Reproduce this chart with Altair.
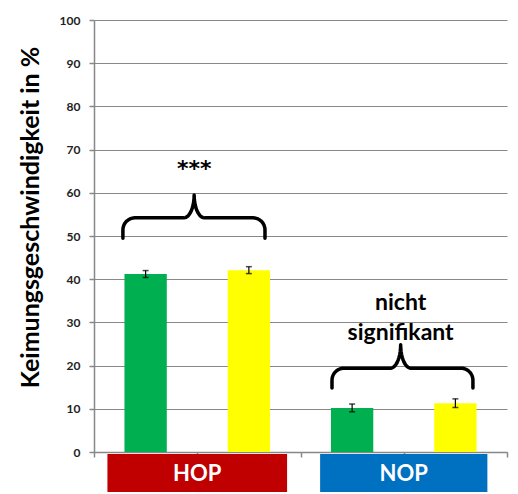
import altair as alt
import numpy as np
import pandas as pd

# ---- data ----
groups = ["HOP", "HOP", "NOP", "NOP"]
series = ["a", "b", "a", "b"]
values = [41.2, 42.1, 10.2, 11.3]
errors = [0.8, 0.8, 0.9, 1.0]
bar_colors = ["#00B050", "#FFFF00", "#00B050", "#FFFF00"]

group_labels = ["HOP", "NOP"]
group_colors = ["#C00000", "#0070C0"]
group_half_widths = [0.87, 0.81]

y_ticks = [0, 10, 20, 30, 40, 50, 60, 70, 80, 90, 100]
y_title = "Keimungsgeschwindigkeit in %"

sig_labels = [["***"], ["nicht", "signifikant"]]

FONT = "Lato"
BAR_HALF = 0.205

pos = [i + 0.5 for i in range(len(values))]
bars = pd.DataFrame({
    "x": [p - BAR_HALF for p in pos],
    "x2": [p + BAR_HALF for p in pos],
    "pos": pos,
    "v": values,
    "lo": [v - e for v, e in zip(values, errors)],
    "hi": [v + e for v, e in zip(values, errors)],
    "color": bar_colors,
})

X = alt.X("x:Q", scale=alt.Scale(domain=[0, 4], nice=False, zero=False),
          axis=alt.Axis(values=[0, 1, 2, 3, 4], labels=False, title=None, grid=False,
                        tickSize=5, tickColor="#888888", domainColor="#888888",
                        domainWidth=1.5, tickWidth=1.5))
Y = alt.Y("v:Q", scale=alt.Scale(domain=[0, 100], nice=False),
          axis=alt.Axis(values=y_ticks, title=y_title, titleFont=FONT, titleFontSize=25,
                        titleFontWeight="bold", titleColor="#000000", titleAngle=270,
                        titleX=-64, titleY=197, titleAlign="center", titleBaseline="middle",
                        labelFont=FONT, labelFontSize=12, labelFontWeight="bold",
                        labelColor="#222222", labelPadding=9, tickSize=5,
                        tickColor="#888888", domainColor="#888888", domainWidth=1.5,
                        gridColor="#888888", gridWidth=1, tickWidth=1.5))

bar_layer = alt.Chart(bars).mark_bar().encode(
    x=X, x2="x2:Q", y=Y, y2=alt.datum(0),
    color=alt.Color("color:N", scale=None))

err_rule = alt.Chart(bars).mark_rule(color="#000000", strokeWidth=1.2).encode(
    x="pos:Q", y="lo:Q", y2="hi:Q")
err_cap = alt.Chart(bars).transform_fold(["lo", "hi"], as_=["k", "yy"]).mark_tick(
    orient="horizontal", color="#000000", size=6, thickness=1.5).encode(
    x="pos:Q", y="yy:Q")

# ---- braces ----
def brace(x0, x1, xp, y_end, y_base, y_peak, rx=0.116, ry=2.8, mrx=0.1):
    pts = [(x0, y_end)]
    t = np.linspace(0, np.pi / 2, 12)
    cx, cy = x0 + rx, y_base - ry
    pts += [(cx - rx * np.cos(a), cy + ry * np.sin(a)) for a in t]
    cx, cy = xp - mrx, y_peak
    h = y_peak - y_base
    pts += [(cx + mrx * np.sin(a), cy - h * np.cos(a)) for a in t]
    cx = xp + mrx
    pts += [(cx - mrx * np.cos(a), cy - h * np.sin(a)) for a in t]
    cx, cy = x1 - rx, y_base - ry
    pts += [(cx + rx * np.sin(a), cy + ry * np.cos(a)) for a in t]
    pts.append((x1, y_end))
    return pts

brace_specs = [
    (0.28, 1.656, 0.97, 49.5, 54.2, 59.5),
    (2.305, 3.67, 2.97, 14.8, 19.4, 24.8),
]
rows = []
for bi, spec in enumerate(brace_specs):
    for oi, (bx, by) in enumerate(brace(*spec)):
        rows.append({"b": bi, "o": oi, "x": bx, "v": by})
brace_df = pd.DataFrame(rows)
brace_layer = alt.Chart(brace_df).mark_line(color="#000000", strokeWidth=3.5,
                                            strokeCap="round", strokeJoin="round").encode(
    x="x:Q", y="v:Q", detail="b:N", order="o:Q")

# ---- significance labels ----
star_df = pd.DataFrame({"x": [0.97], "v": [65.5], "t": sig_labels[0]})
star_layer = alt.Chart(star_df).mark_text(font="DejaVu Sans", fontSize=22, fontWeight="bold",
                                          color="#000000", baseline="middle").encode(
    x="x:Q", y="v:Q", text="t:N")
ns_df = pd.DataFrame({"x": [2.97, 2.97], "v": [34.5, 27.5], "t": sig_labels[1]})
ns_layer = alt.Chart(ns_df).mark_text(font=FONT, fontSize=23, fontWeight="bold",
                                      color="#000000", baseline="middle").encode(
    x="x:Q", y="v:Q", text="t:N")

# ---- group label boxes ----
grp = pd.DataFrame({
    "label": group_labels,
    "c": group_colors,
    "x": [1.0 - group_half_widths[0], 3.0 - group_half_widths[1]],
    "x2": [1.0 + group_half_widths[0], 3.0 + group_half_widths[1]],
    "xc": [1.0, 3.0],
})
box_layer = alt.Chart(grp).mark_rect().encode(
    x="x:Q", x2="x2:Q", y=alt.value(434), y2=alt.value(472),
    color=alt.Color("c:N", scale=None))
box_text = alt.Chart(grp).mark_text(font=FONT, fontSize=22, fontWeight="bold",
                                    color="#FFFFFF", baseline="middle").encode(
    x="xc:Q", y=alt.value(454), text="label:N")

chart = alt.layer(bar_layer, err_rule, err_cap, brace_layer, star_layer, ns_layer,
                  box_layer, box_text).properties(
    width=413, height=432,
    autosize=alt.AutoSizeParams(type="none"),
    padding={"left": 86, "top": 12, "right": 3, "bottom": 42},
    background="#FFFFFF",
).configure_view(stroke=None)

chart.save("out.html", embed_options={"renderer": "svg", "actions": False})
